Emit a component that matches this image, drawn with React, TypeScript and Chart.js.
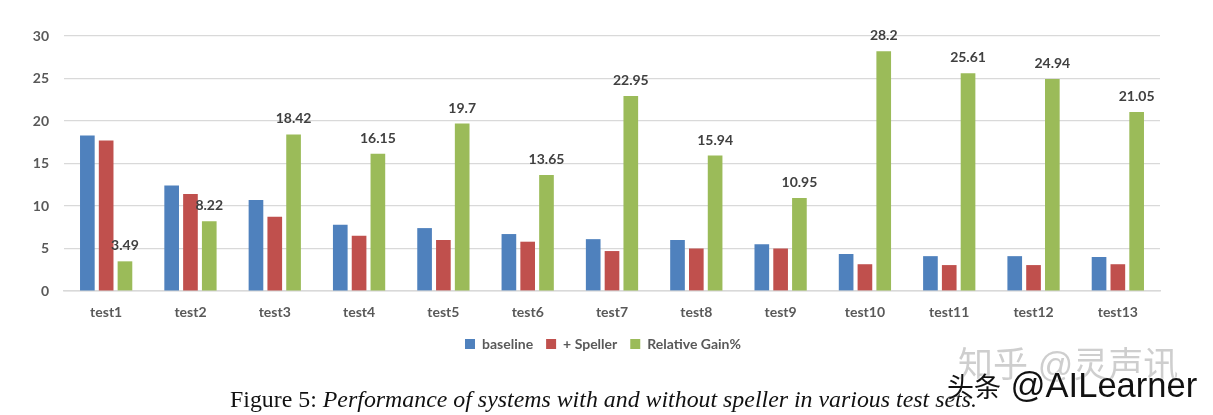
import { useRef, useEffect } from "react";
import { Chart, ChartConfiguration, registerables } from "chart.js";

Chart.register(...registerables);

const categories = ["test1", "test2", "test3", "test4", "test5", "test6", "test7", "test8", "test9", "test10", "test11", "test12", "test13"];
const baseline = [18.3, 12.4, 10.7, 7.8, 7.4, 6.7, 6.1, 6.0, 5.5, 4.35, 4.1, 4.1, 4.0];
const speller = [17.7, 11.4, 8.75, 6.5, 6.0, 5.8, 4.7, 5.0, 5.0, 3.15, 3.05, 3.05, 3.15];
const relativeGain = [3.49, 8.22, 18.42, 16.15, 19.7, 13.65, 22.95, 15.94, 10.95, 28.2, 25.61, 24.94, 21.05];

const FONT = "Lato";

// value labels above the green bars only
const gainLabels = {
  id: "gainLabels",
  afterLayout(chart: any) {
    // legend sits a bit right of the centre of its box
    chart.legend.left += 7;
    chart.legend.right += 7;
  },
  afterDatasetsDraw(chart: Chart) {
    const ctx = chart.ctx;
    const meta = chart.getDatasetMeta(2);
    ctx.save();
    ctx.font = `bold 14px ${FONT}`;
    ctx.fillStyle = "#404040";
    ctx.textAlign = "center";
    ctx.textBaseline = "middle";
    meta.data.forEach((bar, i) => {
      ctx.fillText(String(relativeGain[i]), bar.x, bar.y - 15.5);
    });
    ctx.restore();
  },
};

export default function App() {
  const chartRef = useRef<HTMLCanvasElement>(null);

  useEffect(() => {
    if (!chartRef.current) return;
    const config: ChartConfiguration = {
      type: "bar",
      data: {
        labels: categories,
        datasets: [
          { label: "baseline", data: baseline, backgroundColor: "#4f81bd" },
          { label: "+ Speller", data: speller, backgroundColor: "#c0504d" },
          { label: "Relative Gain%", data: relativeGain, backgroundColor: "#9bbb59" },
        ],
      },
      options: {
        responsive: false,
        animation: false,
        datasets: { bar: { categoryPercentage: 0.669, barPercentage: 0.78 } },
        layout: { padding: { left: 32, right: 53, top: 36, bottom: 54 } },
        plugins: {
          tooltip: { enabled: false },
          legend: {
            position: "bottom",
            labels: {
              color: "#595959",
              boxWidth: 10,
              boxHeight: 10,
              padding: 13,
              font: { family: FONT, size: 14, weight: "bold" },
            },
          },
        },
        scales: {
          x: {
            afterFit: (scale: any) => {
              scale.height = 33;
            },
            grid: { display: false },
            border: { color: "#d9d9d9", width: 1.5 },
            ticks: {
              color: "#595959",
              padding: 5,
              font: { family: FONT, size: 14, weight: "bold" },
            },
          },
          y: {
            min: 0,
            max: 30,
            afterFit: (scale: any) => {
              scale.width = 32;
            },
            grid: { color: "#d9d9d9", lineWidth: 1.2, drawTicks: false },
            border: { display: false },
            ticks: {
              stepSize: 5,
              color: "#595959",
              padding: 15,
              font: { family: FONT, size: 14, weight: "bold" },
            },
          },
        },
      },
      plugins: [gainLabels],
    };
    const chart = new Chart(chartRef.current, config);
    return () => chart.destroy();
  }, []);

  return (
    <div style={{ position: "fixed", left: 0, top: 0, width: 1213, height: 415, background: "#fff", overflow: "hidden" }}>
      <canvas ref={chartRef} width={1213} height={415} style={{ display: "block" }}></canvas>
      <div style={{ position: "absolute", left: 230, top: 384, whiteSpace: "nowrap", fontFamily: "'Liberation Serif'", fontSize: 23.87, lineHeight: "30px", color: "#111" }}>
        Figure 5: <i>Performance of systems with and without speller in various test sets.</i>
      </div>
      <div style={{ position: "absolute", left: 958, top: 345, whiteSpace: "nowrap", fontFamily: "'Liberation Sans','Noto Sans CJK SC'", fontSize: 35, lineHeight: "40px", color: "rgba(190,190,190,0.75)" }}>
        知乎 @灵声讯
      </div>
      <div style={{ position: "absolute", left: 947, top: 365, whiteSpace: "nowrap", fontFamily: "'Liberation Sans','Noto Sans CJK SC'", fontSize: 34.5, lineHeight: "40px", color: "#111", textShadow: "0 0 2px #fff, 0 0 2px #fff" }}>
        <span style={{ fontSize: 27 }}>头条</span> @AILearner
      </div>
    </div>
  );
}
